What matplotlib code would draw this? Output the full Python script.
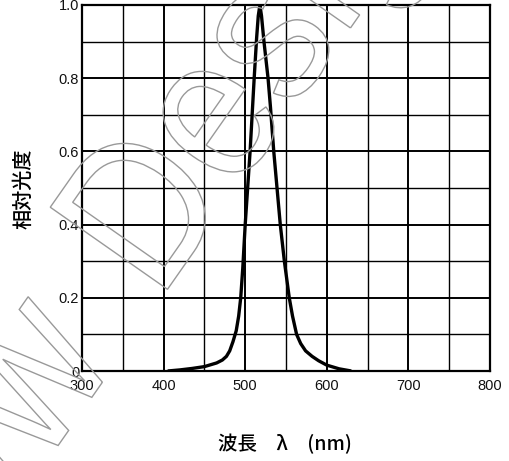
import matplotlib
matplotlib.use("Agg")
import matplotlib.pyplot as plt
import matplotlib.transforms as mtransforms
from matplotlib.textpath import TextPath
from matplotlib.patches import PathPatch
from matplotlib.font_manager import FontProperties
from matplotlib.ticker import FixedFormatter

# relative luminous intensity vs wavelength
wavelength = [405, 420, 435, 450, 465, 472, 477, 481, 485, 489, 492, 494.5, 497,
              500, 503, 506, 509, 511, 514, 516, 518, 520, 523, 526, 528, 531,
              535, 539, 543, 548, 554, 558, 563, 568, 574, 582, 590, 600, 615, 630]
intensity = [0.0, 0.003, 0.007, 0.012, 0.022, 0.03, 0.04, 0.055, 0.08, 0.11, 0.15, 0.2, 0.28,
             0.4, 0.5, 0.6, 0.72, 0.8, 0.91, 0.97, 1.0, 0.97, 0.9, 0.84, 0.8, 0.72,
             0.6, 0.5, 0.4, 0.3, 0.2, 0.15, 0.1, 0.075, 0.055, 0.04, 0.028, 0.016, 0.006, 0.0]

x_major = [300, 400, 500, 600, 700, 800]
x_minor = [350, 450, 550, 650, 750]
y_major = [0, 0.2, 0.4, 0.6, 0.8, 1.0]
y_minor = [0.1, 0.3, 0.5, 0.7, 0.9]
y_labels = ["0", "0.2", "0.4", "0.6", "0.8", "1.0"]

plt.rcParams['font.family'] = ['Liberation Sans', 'Noto Sans CJK JP', 'DejaVu Sans']

fig = plt.figure(figsize=(5.1, 4.61), dpi=100)
ax = fig.add_axes([82 / 510, 90 / 461, 408 / 510, 366 / 461])

ax.plot(wavelength, intensity, color='black', lw=2.4, solid_joinstyle='round',
        solid_capstyle='butt', zorder=3)

ax.set_xlim(300, 800)
ax.set_ylim(0, 1.0)
ax.set_xticks(x_major)
ax.set_xticks(x_minor, minor=True)
ax.set_yticks(y_major)
ax.set_yticks(y_minor, minor=True)
ax.yaxis.set_major_formatter(FixedFormatter(y_labels))
ax.grid(which='major', color='black', lw=1.4)
ax.grid(which='minor', color='black', lw=1.0)
ax.set_axisbelow(True)
ax.tick_params(which='both', length=0, labelsize=10.5, colors='#111111')
ax.tick_params(axis='x', pad=5.5)
ax.tick_params(axis='y', pad=2)
for lab in ax.get_yticklabels():
    lab.set_verticalalignment('center_baseline')
for sp in ax.spines.values():
    sp.set_linewidth(1.6)

cjk = ['Noto Sans CJK JP', 'DejaVu Sans']
fig.text(24 / 510, 1 - 189 / 461, "相対光度", rotation=90, ha='center', va='center',
         fontsize=14.5, family=cjk, weight='medium')
fig.text(285 / 510, 1 - 444 / 461, "波長　λ　(nm)", ha='center', va='center',
         fontsize=14, family=cjk, weight='medium')

# outlined diagonal watermark (slightly condensed), laid out along one baseline
# in pixel coordinates; offsets are along the baseline from the foot of the "D"
H = 461
SIZE, SX, ANGLE = 208, 0.87, 55
base_x, base_y = 167, H - 290
fp = FontProperties(family='Liberation Sans')
for word, offset in [("ww", -347), ("Design", -14)]:
    tp = TextPath((0, 0), word, size=SIZE, prop=fp)
    tr = (mtransforms.Affine2D()
          .scale(SX, 1)
          .translate(offset, 0)
          .rotate_deg(ANGLE)
          .translate(base_x, base_y))
    fig.add_artist(PathPatch(tp, transform=tr, fc='none', ec='#999999', lw=1.0, zorder=5))

fig.savefig("out.png", dpi=100, facecolor='white')
